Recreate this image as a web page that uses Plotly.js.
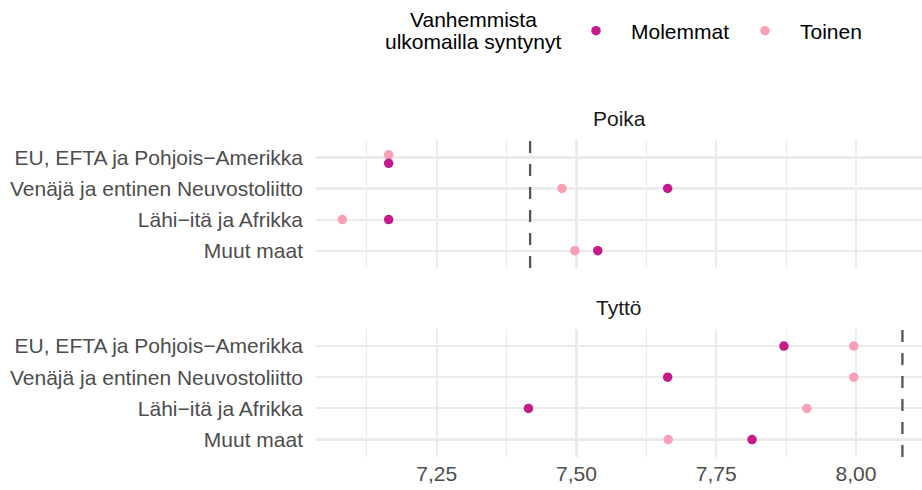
<!DOCTYPE html>
<html><head><meta charset="utf-8">
<script src="https://cdn.plot.ly/plotly-3.0.1.min.js"></script>
<style>html,body{margin:0;padding:0;background:#fff}</style>
</head><body><div id="chart" style="width:922px;height:490px"></div>
<script>
const categories = ["EU, EFTA ja Pohjois\u2212Amerikka", "Venäjä ja entinen Neuvostoliitto", "Lähi\u2212itä ja Afrikka", "Muut maat"];
const panels = ["Poika", "Tyttö"];
const seriesNames = ["Molemmat", "Toinen"];
const poikaMolemmat = [7.164, 7.663, 7.164, 7.538];
const poikaToinen   = [7.164, 7.474, 7.081, 7.497];
const tyttoMolemmat = [7.871, 7.663, 7.414, 7.814];
const tyttoToinen   = [7.996, 7.996, 7.912, 7.664];
const referenceValues = [7.417, 8.083];
const xTickValues = [7.25, 7.5, 7.75, 8.0];
const xTickLabels = ["7,25", "7,50", "7,75", "8,00"];
const legendTitleLines = ["Vanhemmista", "ulkomailla syntynyt"];

const colors = {Molemmat: "#c51b8a", Toinen: "#fa9fb5"};
const FONT = "Liberation Sans, Arial, Helvetica, sans-serif";
const FS = 21;

const panelData = [
  {Molemmat: poikaMolemmat, Toinen: poikaToinen},
  {Molemmat: tyttoMolemmat, Toinen: tyttoToinen}
];
const yPos = categories.map((c, i) => categories.length - 1 - i);

const traces = [];
panelData.forEach((pd, p) => {
  const yaxisId = p === 0 ? "y" : "y2";
  // draw Toinen first so Molemmat is on top
  ["Toinen", "Molemmat"].forEach(name => {
    const other = name === "Toinen" ? pd.Molemmat : pd.Toinen;
    const ys = yPos.map((y, i) => {
      const overlap = Math.abs(pd[name][i] - other[i]) < 0.02;
      if (!overlap) return y;
      return name === "Toinen" ? y + 0.085 : y - 0.19;
    });
    traces.push({
      type: "scatter", mode: "markers",
      x: pd[name], y: ys, xaxis: "x", yaxis: yaxisId,
      name: name, legendgroup: name,
      legendrank: seriesNames.indexOf(name) + 1,
      showlegend: p === 0,
      marker: {color: colors[name], size: 9.5, line: {width: 0}},
      hoverinfo: "x+name"
    });
  });
});

const H = 490, T = 140, B = 33;
const plotH = H - T - B;
function py(pix) { return (H - B - pix) / plotH; }
const L = 316, R = 0, plotW = 922 - L - R;
function px(pix) { return (pix - L) / plotW; }

const yAxisCommon = {
  range: [-0.56, 3.56], tickmode: "array", tickvals: yPos, ticktext: categories,
  showgrid: true, gridcolor: "#ebebeb", gridwidth: 2.2, zeroline: false, showline: false,
  ticks: "", ticklabelstandoff: 12,
  tickfont: {family: FONT, size: FS, color: "#4d4d4d"}, fixedrange: true
};

const shapes = referenceValues.map((v, p) => ({
  type: "line", xref: "x", yref: (p === 0 ? "y domain" : "y2 domain"),
  x0: v, x1: v, y0: 0, y1: 1,
  line: {color: "#555555", width: 2.3, dash: "12px,11px"}
}));

const annotations = [
  {text: panels[0], xref: "paper", yref: "paper", x: 0.5, y: py(118), xanchor: "center", yanchor: "middle", showarrow: false, font: {family: FONT, size: FS, color: "#1a1a1a"}},
  {text: panels[1], xref: "paper", yref: "paper", x: 0.5, y: py(307), xanchor: "center", yanchor: "middle", showarrow: false, font: {family: FONT, size: FS, color: "#1a1a1a"}},
  {text: legendTitleLines[0], xref: "paper", yref: "paper", x: px(473), y: py(20), xanchor: "center", yanchor: "middle", showarrow: false, font: {family: FONT, size: FS, color: "#000"}},
  {text: legendTitleLines[1], xref: "paper", yref: "paper", x: px(473), y: py(42), xanchor: "center", yanchor: "middle", showarrow: false, font: {family: FONT, size: FS, color: "#000"}}
];

const layout = {
  width: 922, height: 490,
  margin: {l: L, r: R, t: T, b: B, pad: 0},
  paper_bgcolor: "#fff", plot_bgcolor: "#fff",
  separators: ", ",
  font: {family: FONT, size: FS, color: "#000"},
  xaxis: {
    anchor: "y2", range: [7.034, 8.118],
    tickmode: "array", tickvals: xTickValues, ticktext: xTickLabels,
    showgrid: true, gridcolor: "#ebebeb", gridwidth: 2.2,
    minor: {tickmode: "linear", tick0: 7.125, dtick: 0.25, showgrid: true, gridcolor: "#ebebeb", gridwidth: 1.2, ticks: ""},
    zeroline: false, showline: false, ticks: "", ticklabelstandoff: 2,
    tickfont: {family: FONT, size: FS, color: "#4d4d4d"}, fixedrange: true
  },
  yaxis: Object.assign({}, yAxisCommon, {domain: [py(268.1), 1], anchor: "x"}),
  yaxis2: Object.assign({}, yAxisCommon, {domain: [0, py(328.6)], anchor: "x"}),
  shapes: shapes,
  annotations: annotations,
  showlegend: true,
  legend: {
    orientation: "h", x: px(561), xanchor: "left", y: py(31), yanchor: "middle",
    itemwidth: 60, entrywidth: 94, entrywidthmode: "pixels",
    font: {family: FONT, size: FS, color: "#000"}, bgcolor: "rgba(0,0,0,0)",
    traceorder: "normal"
  }
};

Plotly.newPlot("chart", traces, layout, {displayModeBar: false, staticPlot: true});
</script></body></html>
